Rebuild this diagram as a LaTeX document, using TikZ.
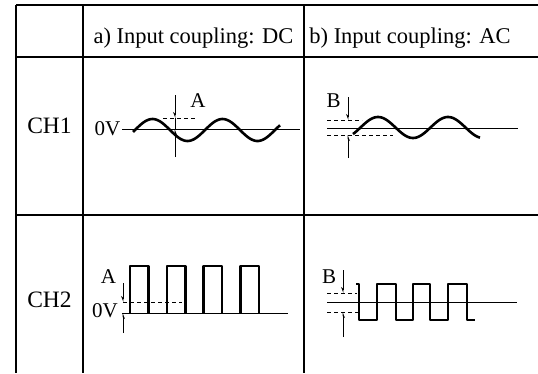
\documentclass[tikz,border=0pt]{standalone}
\usepackage{fontspec}
\setmainfont{Liberation Serif}
\usetikzlibrary{arrows.meta}
\begin{document}
\begin{tikzpicture}[x=1pt,y=-1pt,
  grid/.style={line width=1.3pt},
  wave/.style={line width=2.6pt,line join=round},
  zero/.style={line width=0.8pt},
  lvl/.style={line width=0.9pt,dash pattern=on 4pt off 3pt},
  meas/.style={line width=0.9pt,-{Stealth[length=5pt,width=4pt,harpoon,swap]}},
  head/.style={anchor=base,font=\fontsize{22.5}{26}\selectfont,inner sep=0pt},
  lab/.style={anchor=base,font=\fontsize{21}{23}\selectfont,inner sep=0pt}]
\useasboundingbox (0,0) rectangle (538,373);
% table
\draw[grid] (16,5) -- (538,5);
\draw[grid,line width=1.7pt] (16,57) -- (538,57);
\draw[grid,line width=1.7pt] (16,215) -- (538,215);
\draw[grid] (16,5) -- (16,373);
\draw[grid] (83,5) -- (83,373);
\draw[grid] (304,5) -- (304,373);
% headers
\node[head] (ha) at (193.5,43) {a) Input coupling: DC};
\node[head] (hb) at (410,43) {b) Input coupling: AC};
\node[head,font=\fontsize{23.5}{26}\selectfont] (ch1) at (49.5,133) {CH1};
\node[head,font=\fontsize{23.5}{26}\selectfont] (ch2) at (49.5,307) {CH2};
% CH1 DC
\node[lab] (zv1) at (107.5,135) {0V};
\draw[zero] (122,129) -- (300,129);
\draw[wave] plot[domain=133:280,samples=90] (\x,{130-11*cos(5.142857*(\x-152.5))});
\draw[lvl] (163,118) -- (195,118);
\draw[line width=0.9pt] (175,118) -- (175,129);
\draw[meas] (175,95) -- (175,118);
\draw[meas] (175,157) -- (175,129);
\node[lab] (la1) at (198,107) {A};
% CH1 AC
\draw[zero] (327,128) -- (518,128);
\draw[lvl] (327,120) -- (362,120);
\draw[lvl] (327,135) -- (393,135);
\draw[wave] plot[domain=353:480,samples=90] (\x,{127.5-10.5*cos(5.142857*(\x-378))});
\draw[meas] (348,97) -- (348,120);
\draw[meas] (348,158) -- (348,135);
\node[lab] (lb1) at (333.5,107) {B};
% CH2 DC
\node[lab] (zv2) at (105,317) {0V};
\draw[zero] (122,313) -- (288,313);
\draw[lvl] (123,302) -- (182,302);
\foreach \a in {130,167,203.5,240.5}
  \draw[wave] (\a,313) -- (\a,266) -- (\a+18.5,266) -- (\a+18.5,313);
\draw[meas] (123,283) -- (123,302);
\draw[meas] (123,333) -- (123,313);
\node[lab] (la2) at (108.5,283) {A};
% CH2 AC
\draw[zero] (327,302) -- (517,302);
\draw[lvl] (327,293) -- (357,293);
\draw[lvl] (327,312) -- (360,312);
\draw[wave] (356,284) -- (359,284) -- (359,320) -- (377,320) -- (377,284)
  -- (396,284) -- (396,320) -- (413,320) -- (413,284) -- (430,284)
  -- (430,320) -- (448,320) -- (448,284) -- (467,284) -- (467,320) -- (475,320);
\draw[meas] (343,270) -- (343,293);
\draw[meas] (343,337) -- (343,312);
\node[lab] (lb2) at (329,283) {B};
\end{tikzpicture}
\end{document}
